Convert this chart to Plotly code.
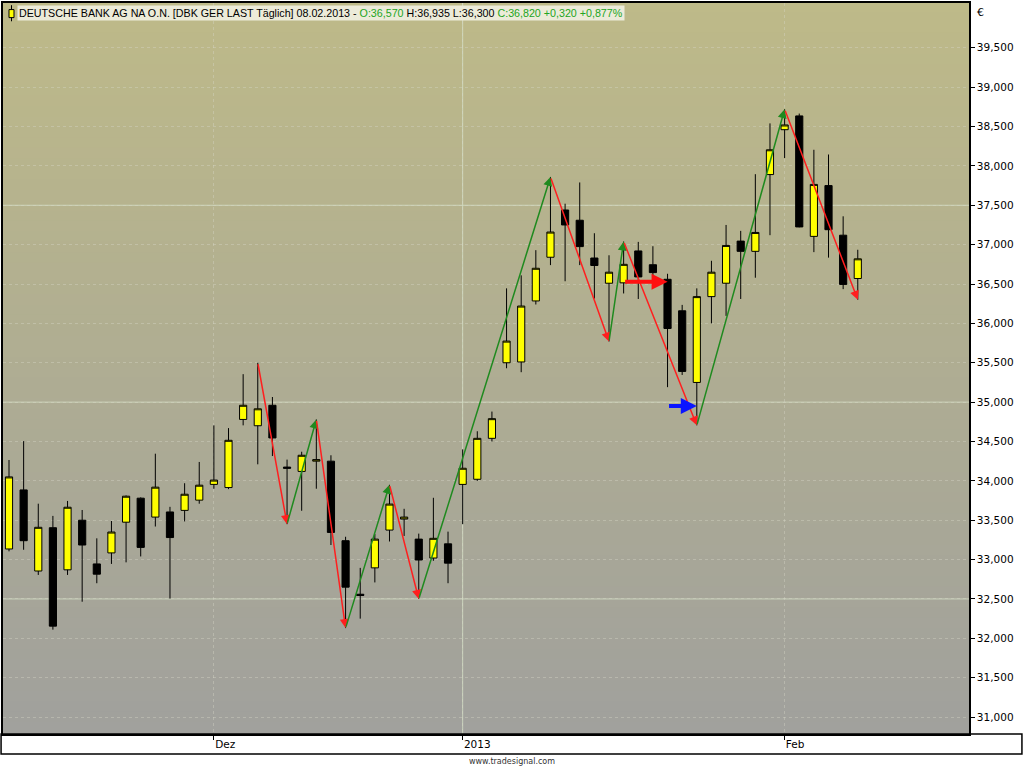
import numpy as np
import plotly.graph_objects as go

# daily bars, DBK Xetra, Nov 2012 - Feb 2013
dates = ["2012-11-13", "2012-11-14", "2012-11-15", "2012-11-16", "2012-11-19", "2012-11-20",
         "2012-11-21", "2012-11-22", "2012-11-23", "2012-11-26", "2012-11-27", "2012-11-28",
         "2012-11-29", "2012-11-30", "2012-12-03", "2012-12-04", "2012-12-05", "2012-12-06",
         "2012-12-07", "2012-12-10", "2012-12-11", "2012-12-12", "2012-12-13", "2012-12-14",
         "2012-12-17", "2012-12-18", "2012-12-19", "2012-12-20", "2012-12-21", "2012-12-27",
         "2012-12-28", "2013-01-02", "2013-01-03", "2013-01-04", "2013-01-07", "2013-01-08",
         "2013-01-09", "2013-01-10", "2013-01-11", "2013-01-14", "2013-01-15", "2013-01-16",
         "2013-01-17", "2013-01-18", "2013-01-21", "2013-01-22", "2013-01-23", "2013-01-24",
         "2013-01-25", "2013-01-28", "2013-01-29", "2013-01-30", "2013-01-31", "2013-02-01",
         "2013-02-04", "2013-02-05", "2013-02-06", "2013-02-07", "2013-02-08"]
opens = [33135, 33885, 32855, 33405, 32870, 33500, 32945, 33085, 33475, 33780, 33540, 33605,
         33625, 33755, 33955, 33915, 34780, 34700, 34960, 34175, 34120, 34250, 34250, 33240,
         32560, 32895, 33375, 33515, 33260, 33020, 33200, 33955, 34020, 34540, 35500, 35510,
         36285, 36840, 37440, 37310, 36830, 36510, 36515, 36920, 36745, 36560, 36160, 35250,
         36340, 36510, 37045, 36915, 37890, 38460, 38635, 37105, 37750, 37120, 36570]
highs = [34265, 34505, 33710, 33555, 33745, 33630, 33270, 33490, 33815, 33790, 34345, 33670,
         33970, 34240, 34705, 34670, 35355, 35500, 35065, 34270, 34370, 34780, 34325, 33290,
         32895, 33325, 33950, 33645, 33330, 33785, 33355, 34400, 34630, 34880, 36445, 36610,
         36930, 37860, 37520, 37790, 37145, 36865, 37040, 37035, 36980, 36630, 36235, 36445,
         36795, 37250, 37175, 37895, 38540, 38720, 38665, 38205, 38145, 37360, 36935]
lows = [33105, 33125, 32805, 32110, 32805, 32465, 32700, 32945, 32965, 33040, 33420, 32505,
        33485, 33710, 33900, 33895, 34705, 34210, 34315, 33450, 33620, 33900, 33185, 32130,
        32250, 32710, 33230, 33300, 32500, 32985, 32700, 33450, 34000, 34500, 35430, 35380,
        36240, 36740, 36535, 36740, 36315, 35770, 36380, 36310, 36525, 35190, 35345, 34705,
        36000, 36095, 36310, 36580, 37120, 38100, 37220, 36905, 36835, 36435, 36300]
closes = [34050, 33240, 33410, 32155, 33665, 33185, 32815, 33350, 33805, 33155, 33920, 33280,
          33830, 33945, 34010, 34515, 34960, 34915, 34545, 34160, 34325, 34270, 33345, 32650,
          32545, 33260, 33705, 33540, 32995, 33270, 32955, 34160, 34540, 34790, 35775, 36220,
          36700, 37160, 37250, 36975, 36735, 36650, 36750, 36590, 36645, 35935, 35390, 36340,
          36650, 36990, 36915, 37155, 38205, 38520, 37225, 37765, 37190, 36495, 36820]

# zigzag swing points
zz_dates = ["2012-12-06", "2012-12-10", "2012-12-12", "2012-12-14", "2012-12-19", "2012-12-21",
            "2013-01-10", "2013-01-16", "2013-01-17", "2013-01-24", "2013-02-01", "2013-02-08"]
zz_prices = [35500, 33450, 34780, 32130, 33950, 32500, 37860, 35770, 37040, 34705, 38720, 36300]

# horizontal signal arrows (start date, end date, level)
red_sig = ("2013-01-17", "2013-01-22", 36530)
blue_sig = ("2013-01-22", "2013-01-24", 34950)

tick_dates = ["2012-12-03", "2013-01-02", "2013-02-01"]
tick_text = ["Dez", "2013", "Feb"]
price_ticks = list(range(31000, 40000, 500))
major_levels = [32500, 35000, 37500]

fig = go.Figure(go.Candlestick(
    x=dates, open=opens, high=highs, low=lows, close=closes,
    increasing=dict(line=dict(color="black", width=1), fillcolor="#ffff00"),
    decreasing=dict(line=dict(color="black", width=1), fillcolor="#000000"),
    whiskerwidth=0, hoverinfo="skip", showlegend=False))

grid_solid = "rgba(212,224,198,0.8)"
grid_dot = "rgba(215,215,200,0.4)"
shapes = []
# background gradient, olive at top to grey at bottom
top_c = np.array([190, 186, 137])
bot_c = np.array([161, 161, 157])
n = 70
for i in range(n):
    c = top_c + (bot_c - top_c) * i / (n - 1)
    shapes.append(dict(type="rect", xref="x domain", yref="y domain",
                       x0=0, x1=1, y0=1 - (i + 1) / n, y1=1 - i / n + 0.002,
                       fillcolor="rgb(%d,%d,%d)" % tuple(c), line_width=0, layer="below"))
for lv in major_levels:
    shapes.append(dict(type="line", xref="x domain", yref="y", x0=0, x1=1, y0=lv, y1=lv,
                       line=dict(color=grid_solid, width=1), layer="below"))
shapes.append(dict(type="line", xref="x", yref="y domain", x0="2013-01-02", x1="2013-01-02",
                   y0=0, y1=1, line=dict(color=grid_solid, width=1), layer="below"))
# x-axis strip frame
shapes.append(dict(type="rect", xref="paper", yref="paper", x0=-0.002, x1=1.0548,
                   y0=-0.0275, y1=0, line=dict(color="black", width=1.5)))
# small icon in front of the title
shapes.append(dict(type="line", xref="paper", yref="paper", x0=0.0088, x1=0.0088,
                   y0=0.975, y1=0.997, line=dict(color="black", width=1)))
shapes.append(dict(type="rect", xref="paper", yref="paper", x0=0.0062, x1=0.0114,
                   y0=0.980, y1=0.991, fillcolor="#ffff00", line=dict(color="black", width=1)))

annotations = []
for i in range(1, len(zz_dates)):
    col = "#1f8a1f" if zz_prices[i] > zz_prices[i - 1] else "#ff1f1f"
    annotations.append(dict(x=zz_dates[i], y=zz_prices[i], ax=zz_dates[i - 1], ay=zz_prices[i - 1],
                            xref="x", yref="y", axref="x", ayref="y", text="", showarrow=True,
                            arrowhead=2, arrowsize=1.2, arrowwidth=1.5, arrowcolor=col))
for (d0, d1, lv), col in [(red_sig, "#ff1010"), (blue_sig, "#0a14ff")]:
    annotations.append(dict(x=d1, y=lv, ax=d0, ay=lv, xref="x", yref="y", axref="x", ayref="y",
                            text="", showarrow=True, arrowhead=2, arrowsize=0.8, arrowwidth=4,
                            arrowcolor=col))

green = "#22a522"
title = ("DEUTSCHE BANK AG NA O.N. [DBK GER LAST Täglich] 08.02.2013 - "
         "<span style='color:%s'>O:36,570</span> H:36,935 L:36,300 "
         "<span style='color:%s'>C:36,820 +0,320 +0,877%%</span>" % (green, green))
annotations.append(dict(x=0.0145, y=0.9865, xref="paper", yref="paper", xanchor="left",
                        yanchor="middle", text=title, showarrow=False, bgcolor="#ecebd9",
                        borderpad=1, font=dict(family="Liberation Sans", size=10.7, color="black")))
annotations.append(dict(x=1.006, y=0.9865, xref="paper", yref="paper", xanchor="left",
                        yanchor="middle", text="€", showarrow=False,
                        font=dict(family="DejaVu Sans", size=11, color="black")))
annotations.append(dict(x=0.527, y=-0.037, xref="paper", yref="paper", xanchor="center",
                        yanchor="middle", text="www.tradesignal.com", showarrow=False,
                        font=dict(family="DejaVu Sans", size=8, color="#333333")))

fig.update_layout(
    width=1024, height=768,
    margin=dict(l=2, r=55, t=1, b=34),
    paper_bgcolor="white", plot_bgcolor="#b0ae98",
    shapes=shapes, annotations=annotations,
    font=dict(family="DejaVu Sans", size=10.5, color="black"),
    xaxis=dict(type="category", categoryorder="array", categoryarray=dates,
               range=[-0.41, 65.6], rangeslider=dict(visible=False),
               tickmode="array", tickvals=tick_dates, ticktext=tick_text,
               ticks="outside", ticklen=4, tickcolor="black", ticklabelposition="outside right",
               showgrid=True, gridcolor=grid_dot, griddash="dot",
               showline=True, linecolor="black", linewidth=1.5, mirror=True, zeroline=False),
    yaxis=dict(side="right", range=[30785, 40069], tickmode="array", tickvals=price_ticks,
               tickformat=",d", ticks="outside", ticklen=4, tickcolor="black",
               showgrid=True, gridcolor=grid_dot, griddash="dot",
               showline=True, linecolor="black", linewidth=1.5, mirror=True, zeroline=False),
)

fig.write_html("out.html", config={"displayModeBar": False},
               post_script="document.body.style.margin='0';")
